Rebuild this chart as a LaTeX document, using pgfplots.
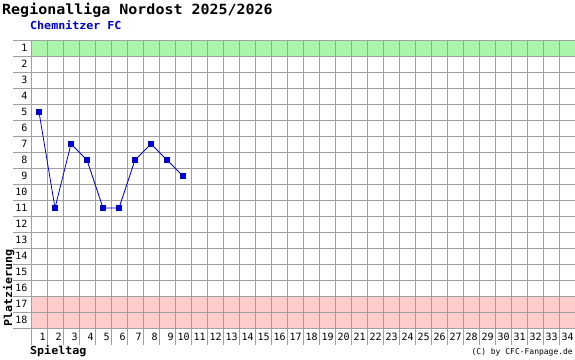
\documentclass[border=0pt]{standalone}
\usepackage{fontspec}
\usepackage{pgfplots}
\pgfplotsset{compat=1.18}
\setmainfont{DejaVu Sans Mono}
\newfontfamily\titlef[FakeStretch=1.07]{DejaVu Sans Mono}
\newfontfamily\subf[FakeStretch=1.06]{DejaVu Sans Mono}
\newfontfamily\tickf{DejaVu Sans Mono}
\definecolor{gridc}{RGB}{160,160,160}
\definecolor{greenband}{RGB}{170,245,170}
\definecolor{redband}{RGB}{255,204,204}
\definecolor{dblue}{RGB}{0,0,204}
\begin{document}
\begin{tikzpicture}
\begin{axis}[
  at={(31pt,31pt)}, anchor=south west,
  scale only axis, width=544pt, height=288pt,
  xmin=0.5, xmax=34.5, ymin=0.5, ymax=18.5, y dir=reverse,
  clip=false,
  axis line style={draw=none},
  tick style={draw=none}, major tick length=0pt,
  xtick={1,...,34}, ytick={1,...,18},
  /pgf/number format/assume math mode=true,
  xticklabel style={font=\tickf\fontsize{10}{12}\selectfont, anchor=base east, xshift=6.8pt, yshift=-12pt, inner sep=0pt},
  yticklabel style={font=\tickf\fontsize{10}{12}\selectfont, anchor=base east, xshift=-3.5pt, yshift=-3.6pt, inner sep=0pt},
]
\fill[greenband] (axis cs:0.5,0.5) rectangle (axis cs:34.5,1.5);
\fill[redband] (axis cs:0.5,16.5) rectangle (axis cs:34.5,18.5);
\pgfplotsinvokeforeach{0.5,1.5,...,18.5}{
  \draw[gridc, line width=1pt] (axis cs:-0.625,#1) -- (axis cs:34.5,#1);
}
\pgfplotsinvokeforeach{0.5,1.5,...,34.5}{
  \draw[gridc, line width=1pt] (axis cs:#1,0.5) -- (axis cs:#1,19.56);
}
\addplot[dblue, line width=0.8pt, mark=square*, mark size=2.4pt, mark options={line width=0.3pt}]
  coordinates {(1,5) (2,11) (3,7) (4,8) (5,11) (6,11) (7,8) (8,7) (9,8) (10,9)};
\end{axis}
\node[anchor=base west, inner sep=0pt] at (2pt,344pt) {\titlef\bfseries\fontsize{14}{16}\selectfont Regionalliga Nordost 2025/2026};
\node[anchor=base west, inner sep=0pt, text=dblue] at (30pt,329pt) {\subf\bfseries\fontsize{11}{13}\selectfont Chemnitzer FC};
\node[anchor=base west, inner sep=0pt] at (30pt,5pt) {\subf\bfseries\fontsize{11}{13}\selectfont Spieltag};
\node[anchor=base west, inner sep=0pt, rotate=90] at (12pt,32pt) {\subf\bfseries\fontsize{11}{13}\selectfont Platzierung};
\node[anchor=base east, inner sep=0pt] at (573pt,5pt) {\tickf\fontsize{8}{10}\selectfont (C) by CFC-Fanpage.de};
\pgfresetboundingbox
\useasboundingbox (0,0) rectangle (575pt,359pt);
\end{tikzpicture}
\end{document}
